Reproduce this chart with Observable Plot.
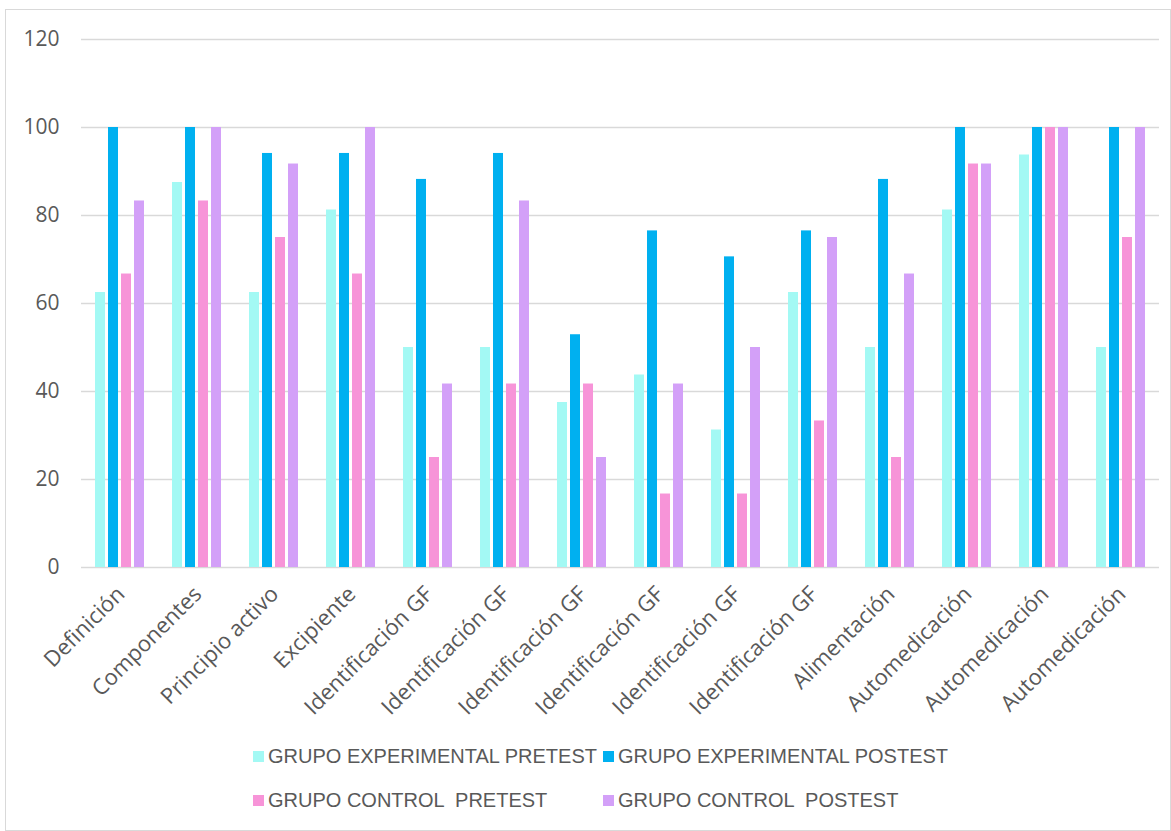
<!DOCTYPE html>
<html>
<head>
<meta charset="utf-8">
<script src="https://cdn.jsdelivr.net/npm/d3@7"></script>
<script src="https://cdn.jsdelivr.net/npm/@observablehq/plot@0.6"></script>
<style>
  html, body { margin: 0; padding: 0; background: #fff; }
  #frame { position: absolute; left: 5px; top: 9px; width: 1164px; height: 820px; border: 1px solid #d9d9d9; box-sizing: content-box; }
  #legend { position: absolute; left: 0; top: 735px; width: 100%; font-family: "Liberation Sans", Arial, sans-serif; font-size: 20px; color: #595959; }
  .item { position: absolute; display: flex; align-items: center; white-space: pre; }
  .sw { width: 11px; height: 11px; margin-right: 4px; }
</style>
</head>
<body>
<div id="frame"><div id="chart"></div><div id="legend"></div></div>
<script>
const categories = ["Definición","Componentes","Principio activo","Excipiente","Identificación GF","Identificación GF","Identificación GF","Identificación GF","Identificación GF","Identificación GF","Alimentación","Automedicación","Automedicación","Automedicación"];
const seriesNames = ["GRUPO EXPERIMENTAL PRETEST","GRUPO EXPERIMENTAL POSTEST","GRUPO CONTROL  PRETEST","GRUPO CONTROL  POSTEST"];
const seriesColors = ["#a3f9f4","#00b0f0","#f794d8","#d3a0f8"];
const expPre  = [62.5, 87.5, 62.5, 81.25, 50, 50, 37.5, 43.75, 31.25, 62.5, 50, 81.25, 93.75, 50];
const expPost = [100, 100, 94.1, 94.1, 88.2, 94.1, 52.9, 76.5, 70.6, 76.5, 88.2, 100, 100, 100];
const ctlPre  = [66.7, 83.3, 75, 66.7, 25, 41.7, 41.7, 16.7, 16.7, 33.3, 25, 91.7, 100, 75];
const ctlPost = [83.3, 100, 91.7, 100, 41.7, 83.3, 25, 41.7, 50, 75, 66.7, 91.7, 100, 100];
const yTicks = [0, 20, 40, 60, 80, 100, 120];

const seriesValues = [expPre, expPost, ctlPre, ctlPost];
const data = [];
categories.forEach((c, i) => {
  seriesNames.forEach((s, j) => data.push({idx: i, series: s, value: seriesValues[j][i]}));
});

const chart = Plot.plot({
  width: 1164,
  height: 720,
  marginTop: 29,
  marginBottom: 163,
  marginLeft: 74,
  marginRight: 10,
  style: {fontFamily: "'Open Sans', sans-serif", color: "#595959", background: "transparent"},
  fx: {domain: d3.range(categories.length), padding: 0, label: null, axis: null},
  x: {domain: seriesNames, paddingInner: 0.2, paddingOuter: 0.95, axis: null},
  y: {domain: [0, 120], label: null},
  color: {domain: seriesNames, range: seriesColors},
  marks: [
    Plot.ruleY(yTicks, {stroke: "#d9d9d9", strokeWidth: 1.5}),
    Plot.barY(data, {fx: "idx", x: "series", y: "value", fill: "series"}),
    Plot.axisY({ticks: yTicks, tickSize: 0, tickPadding: 22, fontSize: 21, label: null, fill: "#595959"}),
    Plot.axisFx({anchor: "bottom", tickSize: 0, tickPadding: 23, dx: 1, tickRotate: -45, fontSize: 22, label: null, fill: "#595959", tickFormat: i => categories[i]})
  ]
});
document.getElementById("chart").appendChild(chart);

const legend = document.getElementById("legend");
const pos = [[247, 0], [597, 0], [247, 44], [597, 44]];
seriesNames.forEach((s, j) => {
  const it = document.createElement("div");
  it.className = "item";
  it.style.left = pos[j][0] + "px";
  it.style.top = pos[j][1] + "px";
  const sw = document.createElement("span");
  sw.className = "sw";
  sw.style.background = seriesColors[j];
  it.appendChild(sw);
  const t = document.createElement("span");
  t.textContent = s;
  it.appendChild(t);
  legend.appendChild(it);
});
</script>
</body>
</html>
